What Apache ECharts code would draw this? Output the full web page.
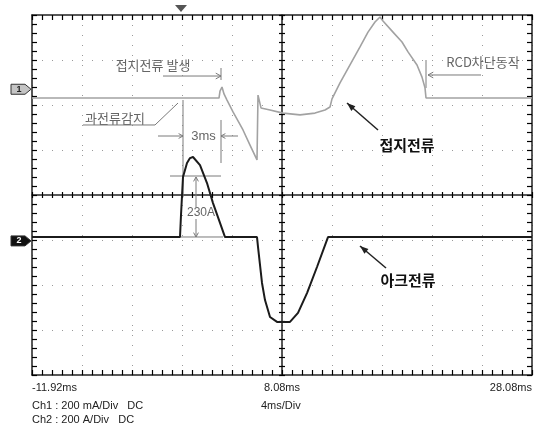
<!DOCTYPE html>
<html>
<head>
<meta charset="utf-8">
<script src="https://cdn.jsdelivr.net/npm/echarts@6/dist/echarts.min.js"></script>
<style>
html, body { margin: 0; padding: 0; background: #fff; }
#scope { width: 534px; height: 429px; }
</style>
</head>
<body>
<div id="scope"></div>
<script>
// scope screen: 10 div x 4 ms, left edge at -11.92 ms
const T0 = -11.92
const MS_PER_DIV = 4
const CH1_MA_PER_DIV = 200
const CH2_A_PER_DIV = 200
const CH1_POS = 2.35 // ground marker, in div from centre
const CH2_POS = -1.02

// ch1 : leakage (earth) current, mA
const ch1Time = [-11.92, 3.04, 3.12, 3.28, 3.44, 3.68, 4.16, 4.96, 5.52, 6.08, 6.16, 6.4, 7.12, 8.16, 9.52, 10.72, 11.52, 11.92,
  12.08, 12.72, 13.52, 14.32, 14.96, 15.52, 15.92, 16.16, 16.96, 17.68, 18.16, 18.88, 19.28, 19.52, 19.6, 28.08]
const ch1Val = [-39, -39, -8, 10, -21, -48, -101, -181, -248, -314, -26, -83, -92, -106, -114, -106, -92, -79,
  -43, 28, 108, 188, 254, 299, 321, 303, 254, 210, 166, 108, 54, 6, -39, -39]

// ch2 : arc current, A
const ch2Time = [-11.92, -0.08, 0.0, 0.16, 0.48, 0.72, 0.96, 1.52, 2.08, 2.56, 3.12, 3.52, 6.08, 6.16, 6.48, 6.72, 7.12, 7.68,
  8.72, 9.36, 10.08, 10.88, 11.76, 28.08]
const ch2Val = [17, 17, 115, 284, 346, 368, 373, 337, 257, 168, 80, 17, 17, -27, -187, -263, -338, -360,
  -360, -320, -232, -116, 17, 17]

const timeLabels = ['-11.92ms', '8.08ms', '28.08ms'] // at 0, 5, 10 div
const infoLines = ['Ch1 : 200 mA/Div   DC', 'Ch2 : 200 A/Div   DC']
const timeBase = '4ms/Div'

const FRAME = '#222'
const ANNO = '#7a7a7a'
const KR = '"Noto Sans CJK KR", sans-serif'
const LAT = '"Liberation Sans", Arial, sans-serif'
const dotted = { color: '#9a9a9a', type: [1, 9], width: 1 }

function xAx(pos, offset, inside, len, extra) {
  return Object.assign({
    type: 'value', min: 0, max: 10 * MS_PER_DIV, interval: MS_PER_DIV, position: pos, offset: offset,
    axisLine: { show: true, onZero: false, lineStyle: { color: FRAME, width: 1.5 } },
    axisTick: { show: true, inside: inside, length: len, lineStyle: { color: '#000', width: 1.2 } },
    minorTick: { show: true, splitNumber: 5, length: len, lineStyle: { color: '#000', width: 1.2 } },
    axisLabel: { show: false },
    splitLine: { show: false }
  }, extra || {})
}
function yAx(pos, offset, inside, len, extra) {
  return Object.assign({
    type: 'value', min: -4, max: 4, interval: 1, position: pos, offset: offset,
    axisLine: { show: true, onZero: false, lineStyle: { color: FRAME, width: 1.5 } },
    axisTick: { show: true, inside: inside, length: len, lineStyle: { color: '#000', width: 1.2 } },
    minorTick: { show: true, splitNumber: 5, length: len, lineStyle: { color: '#000', width: 1.2 } },
    axisLabel: { show: false },
    splitLine: { show: false }
  }, extra || {})
}

const chart = echarts.init(document.getElementById('scope'))

const ch1Data = ch1Time.map((t, i) => [t - T0, CH1_POS + ch1Val[i] / CH1_MA_PER_DIV])
const ch2Data = ch2Time.map((t, i) => [t - T0, CH2_POS + ch2Val[i] / CH2_A_PER_DIV])

chart.setOption({
  animation: false,
  backgroundColor: '#fff',
  grid: { left: 32, top: 15, width: 500, height: 360, outerBoundsMode: 'none' },
  xAxis: [
    xAx('bottom', 0, true, 5, {
      axisLabel: {
        show: true, margin: 7, fontSize: 11, color: '#222', fontFamily: LAT,
        showMinLabel: true, showMaxLabel: true, alignMinLabel: 'left', alignMaxLabel: 'right',
        formatter: v => (v % 20 === 0 ? timeLabels[v / 20] : '')
      },
      splitLine: { show: true, lineStyle: dotted }
    }),
    xAx('top', 0, true, 5),
    xAx('bottom', -180, true, 3),
    xAx('bottom', -180, false, 3, { axisLine: { show: false, onZero: false } })
  ],
  yAxis: [
    yAx('left', 0, true, 5, { splitLine: { show: true, lineStyle: dotted } }),
    yAx('right', 0, true, 5),
    yAx('left', -250, true, 3),
    yAx('left', -250, false, 3, { axisLine: { show: false, onZero: false } })
  ],
  series: [
    {
      name: 'Ch1', type: 'line', data: ch1Data, symbol: 'none', z: 3,
      lineStyle: { color: '#a2a2a2', width: 1.6 }
    },
    {
      name: 'Ch2', type: 'line', data: ch2Data, symbol: 'none', z: 4,
      lineStyle: { color: '#1b1b1b', width: 2 }
    }
  ]
})

// annotations, placed in (ms, div) coordinates
function P(t, d) {
  return chart.convertToPixel({ xAxisIndex: 0, yAxisIndex: 0 }, [t - T0, d])
}
function line(pts, color, w) {
  return { type: 'polyline', z: 1, shape: { points: pts }, style: { stroke: color || ANNO, lineWidth: w || 1, fill: null } }
}
function head(from, tip, size, filled, color) {
  const ang = Math.atan2(tip[1] - from[1], tip[0] - from[0])
  const a = filled ? 0.35 : 0.5
  const p1 = [tip[0] - size * Math.cos(ang - a), tip[1] - size * Math.sin(ang - a)]
  const p2 = [tip[0] - size * Math.cos(ang + a), tip[1] - size * Math.sin(ang + a)]
  if (filled) {
    return { type: 'polygon', z: 1, shape: { points: [p1, tip, p2] }, style: { fill: color || ANNO } }
  }
  return { type: 'polyline', z: 1, shape: { points: [p1, tip, p2] }, style: { stroke: color || ANNO, lineWidth: 1, fill: null } }
}
function label(p, text, font, color, bg) {
  const st = { text: text, font: font, fill: color, align: 'center', verticalAlign: 'middle' }
  if (bg) { st.backgroundColor = bg; st.padding = [0, 1] }
  return { type: 'text', z: 1, x: p[0], y: p[1], style: st }
}
function chMark(pt, n, fill, color) {
  const x = pt[0] - 1
  const y = pt[1]
  return [
    { type: 'polygon', z: 1, shape: { points: [[x - 20, y - 5], [x - 6, y - 5], [x, y], [x - 6, y + 5], [x - 20, y + 5]] }, style: { fill: fill, stroke: '#333', lineWidth: 1 } },
    { type: 'text', z: 1, x: x - 12, y: y, style: { text: n, font: 'bold 9px ' + LAT, fill: color, align: 'center', verticalAlign: 'middle' } }
  ]
}

const g = []
// 접지전류 발생
g.push(label(P(-2.24, 2.889), '접지전류 발생', '13px ' + KR, '#666'))
const a1 = P(-1.44, 2.644)
const a2 = P(3.2, 2.644)
g.push(line([a1, a2]), head(a1, a2, 6, false))
g.push(line([P(3.2, 2.822), P(3.2, 2.556)]))
// 과전류감지
g.push(label(P(-5.28, 1.72), '과전류감지', '13px ' + KR, '#666'))
g.push(line([P(-7.84, 1.556), P(-2.08, 1.556), P(-0.24, 2.044)]))
g.push(line([P(0.16, 2.111), P(0.16, -0.044)]))
// 3ms
const b1 = P(-1.84, 1.311)
const b2 = P(0.16, 1.311)
const b3 = P(4.56, 1.311)
const b4 = P(3.2, 1.311)
g.push(line([b1, b2]), head(b1, b2, 5, false), line([b3, b4]), head(b3, b4, 5, false))
g.push(line([P(3.2, 1.667), P(3.2, 0.711)]))
g.push(label(P(1.8, 1.311), '3ms', '13px ' + LAT, '#666'))
// 230A
g.push(line([P(-0.88, 0.422), P(3.2, 0.422)]))
const c1 = P(1.2, 0.4)
const c2 = P(1.2, -0.933)
g.push(line([c1, c2]), head(c2, c1, 5, false), head(c1, c2, 5, false))
g.push(line([P(-0.08, -0.933), P(3.36, -0.933)]))
g.push(label(P(1.6, -0.4), '230A', '12px ' + LAT, '#666', '#fff'))
// RCD차단동작
g.push(label(P(24.16, 2.956), 'RCD차단동작', '13px ' + KR, '#666'))
const d1 = P(24.0, 2.667)
const d2 = P(19.76, 2.667)
g.push(line([d1, d2]), head(d1, d2, 6, false))
g.push(line([P(19.6, 3.0), P(19.6, 2.378)]))
// 접지전류 / 아크전류
g.push(label(P(18.08, 1.111), '접지전류', 'bold 15px ' + KR, '#111'))
const e1 = P(15.76, 1.444)
const e2 = P(13.28, 2.044)
g.push(line([e1, e2], '#222', 1.5), head(e1, e2, 9, true, '#222'))
g.push(label(P(18.16, -1.889), '아크전류', 'bold 15px ' + KR, '#111'))
const f1 = P(16.4, -1.622)
const f2 = P(14.32, -1.133)
g.push(line([f1, f2], '#222', 1.5), head(f1, f2, 9, true, '#222'))

// trigger marker + channel ground markers
const tr = P(0, 4)
g.push({ type: 'polygon', z: 1, shape: { points: [[tr[0] - 6, tr[1] - 10], [tr[0] + 6, tr[1] - 10], [tr[0], tr[1] - 3]] }, style: { fill: '#555' } })
chMark(P(T0, CH1_POS), '1', '#c4c4c4', '#222').forEach(e => g.push(e))
chMark(P(T0, CH2_POS), '2', '#111', '#fff').forEach(e => g.push(e))

// settings text under the screen
g.push({ type: 'text', z: 1, x: 32, y: 406, style: { text: infoLines[0], font: '11px ' + LAT, fill: '#222', verticalAlign: 'middle' } })
g.push({ type: 'text', z: 1, x: 32, y: 420, style: { text: infoLines[1], font: '11px ' + LAT, fill: '#222', verticalAlign: 'middle' } })
g.push({ type: 'text', z: 1, x: 261, y: 406, style: { text: timeBase, font: '11px ' + LAT, fill: '#222', verticalAlign: 'middle' } })

chart.setOption({ graphic: { elements: g } })
</script>
</body>
</html>
